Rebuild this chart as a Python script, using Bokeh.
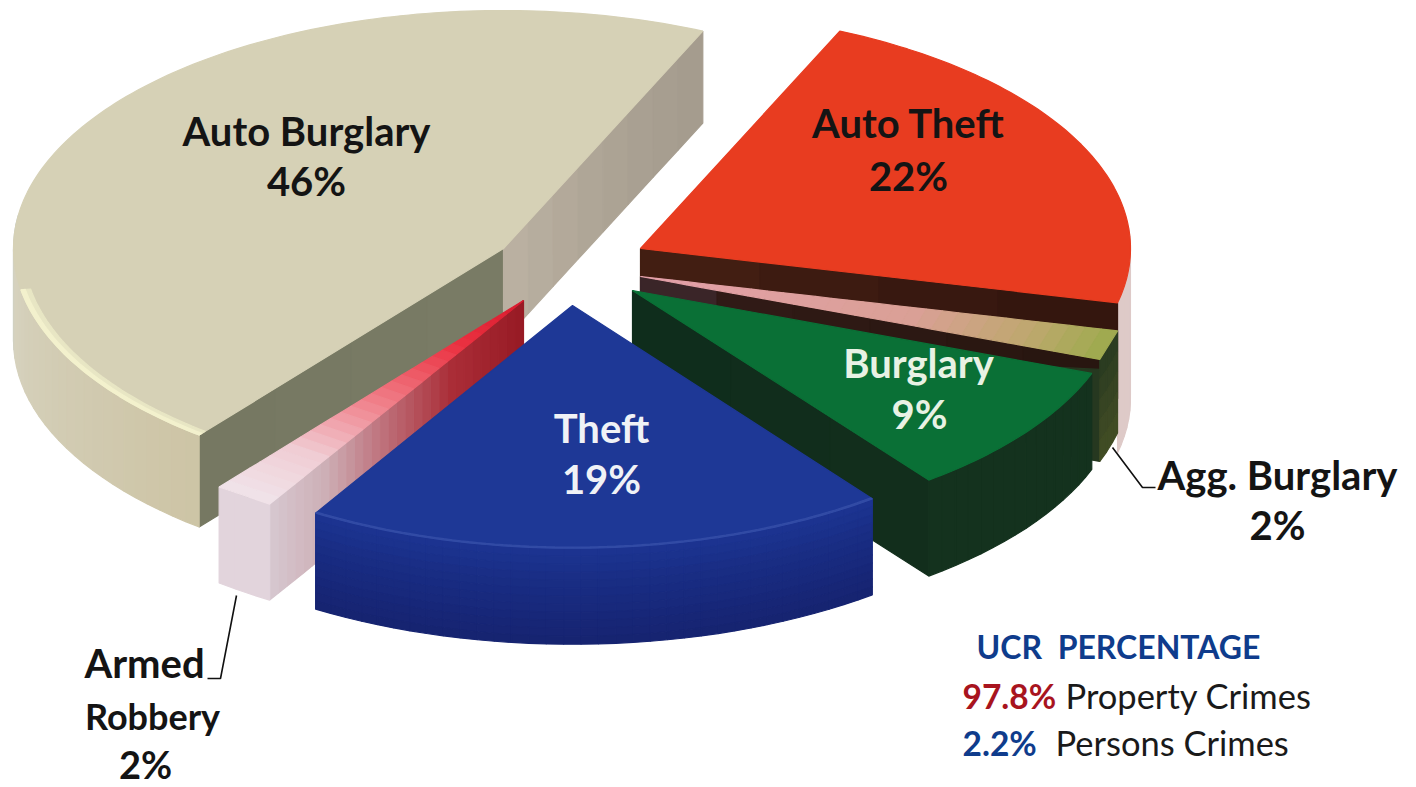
from math import cos, sin, radians
from bokeh.plotting import figure
from bokeh.models import Range1d
from bokeh.core.properties import value
from bokeh.embed import file_html
from bokeh.resources import INLINE

# ---- data ----
categories = ["Auto Theft", "Agg. Burglary", "Burglary", "Theft", "Armed Robbery", "Auto Burglary"]
shares = [22, 2, 9, 19, 2, 46]
ucr_labels = ["Property Crimes", "Persons Crimes"]
ucr_values = [97.8, 2.2]

# ---- projection and layout ----
START = 66.0
A, B = 490.0, 238.0
DEPTH = 96.0
apexes = {
    "Auto Theft": (640, 248), "Agg. Burglary": (640, 276), "Burglary": (632, 290),
    "Theft": (572, 305), "Armed Robbery": (523, 300), "Auto Burglary": (503, 248),
}
scale = {"Theft": (1.012, 1.02)}
spans = {}
a0 = START
for c, s in zip(categories, shares):
    a1 = a0 - s * 3.6
    spans[c] = (a0, a1)
    a0 = a1

xs, ys, cols = [], [], []


def hexc(c):
    return "#%02x%02x%02x" % tuple(int(round(v)) for v in c)


def ramp(stops, f):
    for (f0, c0), (f1, c1) in zip(stops, stops[1:]):
        if f <= f1:
            k = (f - f0) / (f1 - f0) if f1 > f0 else 0
            return tuple(u + (v - u) * k for u, v in zip(c0, c1))
    return stops[-1][1]


def add(px, py, col):
    xs.append(px)
    ys.append(py)
    cols.append(hexc(col))


def pt(c, t, r=1.0):
    ax, ay = apexes[c]
    sx, sy = scale.get(c, (1, 1))
    return ax + r * sx * A * cos(radians(t)), ay - r * sy * B * sin(radians(t))


def steps(t0, t1, d=2.0):
    n = max(1, int(abs(t1 - t0) / d))
    return [t0 + (t1 - t0) * i / n for i in range(n + 1)]


def top(c, col, t0=None, t1=None):
    a, b = spans[c]
    a = a if t0 is None else t0
    b = b if t1 is None else t1
    ax, ay = apexes[c]
    p = [pt(c, t) for t in steps(a, b, 1.0)]
    add([ax] + [q[0] for q in p], [ay] + [q[1] for q in p], col)


def top_grad(c, stops, n=30):
    a, b = spans[c]
    for i in range(n):
        f0, f1 = i / n, (i + 1) / n
        p0, p1, p2, p3 = pt(c, a, f0), pt(c, b, f0), pt(c, b, f1), pt(c, a, f1)
        add([p0[0], p1[0], p2[0], p3[0]], [p0[1], p1[1], p2[1], p3[1]], ramp(stops, f1))


def cut(c, t, stops, n=30, depth=DEPTH):
    for i in range(n):
        f0, f1 = i / n, (i + 1) / n
        p0, p1 = pt(c, t, f0), pt(c, t, f1)
        add([p0[0], p1[0], p1[0], p0[0]], [p0[1], p1[1], p1[1] + depth, p0[1] + depth], ramp(stops, f1))


def wall(c, t0, t1, colfn, bands=1, depth=DEPTH):
    ts = steps(t0, t1)
    for u, v in zip(ts, ts[1:]):
        pu, pv = pt(c, u), pt(c, v)
        for k in range(bands):
            d0, d1 = depth * k / bands, depth * (k + 1) / bands
            add([pu[0], pv[0], pv[0], pu[0]],
                [pu[1] + d0, pv[1] + d0, pv[1] + d1, pu[1] + d1],
                colfn((u - t0) / (t1 - t0), (k + 0.5) / bands))


def rim(c, t0, t1, col, w=0.012):
    ts = steps(t0, t1, 1.0)
    o = [pt(c, t) for t in ts]
    i = [pt(c, t, 1 - w) for t in reversed(ts)]
    add([q[0] for q in o + i], [q[1] for q in o + i], col)


# Auto Burglary
c = "Auto Burglary"
far = spans[c][0] + 360
cut(c, far, [(0, (122, 124, 102)), (1, (118, 120, 98))], 4, 92)
cut(c, START, [(0, (190, 180, 165)), (0.6, (172, 163, 148)), (1, (165, 156, 142))], 8, 92)
wall(c, 172, far, lambda f, v: ramp([(0, (190, 205, 215)), (0.2, (214, 210, 190)), (1, (205, 196, 165))], f), 1, 92)
top(c, (214, 209, 182), far, START)
rim(c, 190, far, (232, 230, 196), 0.02)
rim(c, 190, far, (243, 241, 205), 0.009)

# Auto Theft
c = "Auto Theft"
wall(c, 5, spans[c][1], lambda f, v: (222, 202, 200), 1, 150)
cut(c, spans[c][1], [(0, (70, 32, 20)), (1, (52, 22, 14))], 4)
top(c, (232, 60, 32))

# Agg. Burglary
c = "Agg. Burglary"
t_end = spans[c][1]
cut(c, t_end, [(0, (70, 50, 62)), (0.3, (48, 26, 22)), (1, (40, 22, 16))], 6)
q0, q1 = pt(c, t_end, 0.9), pt(c, t_end, 1.0)
add([q0[0], q1[0], q1[0], q0[0]], [q0[1] + 16, q1[1] + 10, q1[1] + DEPTH + 6, q0[1] + DEPTH + 6], (38, 56, 32))
wall(c, spans[c][0], t_end, lambda f, v: ramp([(0, (40, 58, 32)), (0.6, (58, 70, 36)), (1, (66, 78, 36))], v), 5, DEPTH + 6)
top_grad(c, [(0, (228, 160, 170)), (0.6, (218, 160, 150)), (0.85, (190, 168, 110)), (1, (160, 170, 80))])

# Burglary
c = "Burglary"
cut(c, spans[c][1], [(0, (14, 44, 28)), (1, (18, 46, 28))], 3)
wall(c, spans[c][0], spans[c][1], lambda f, v: (20, 50, 30))
top(c, (10, 112, 54))

# Armed Robbery
c = "Armed Robbery"
cut(c, spans[c][0], [(0, (150, 25, 35)), (0.3, (170, 45, 55)), (0.6, (192, 120, 130)), (0.8, (205, 175, 182)), (1, (214, 198, 206))])
wall(c, spans[c][1], spans[c][0], lambda f, v: (226, 212, 220))
top_grad(c, [(0, (215, 25, 45)), (0.25, (235, 50, 65)), (0.55, (240, 130, 140)), (0.8, (240, 205, 212)), (1, (240, 226, 232))])

# Theft
c = "Theft"
wall(c, spans[c][1], spans[c][0],
     lambda f, v: ramp([(0, (28, 52, 146)), (0.35, (25, 45, 132)), (1, (22, 35, 112))], v), 12)
top(c, (30, 56, 150))
rim(c, spans[c][1], spans[c][0], (50, 75, 165), 0.005)

# ---- figure: axis coordinates are reference pixels ----
W, H = 1416, 787
p = figure(width=W, height=H, x_range=Range1d(0, W), y_range=Range1d(H, 0),
           toolbar_location=None, output_backend="svg", min_border=0)
p.axis.visible = False
p.grid.visible = False
p.outline_line_color = None
p.background_fill_color = "white"
p.border_fill_color = "white"

p.patches(xs, ys, fill_color=cols, line_color=cols, line_width=1.2)

# leader lines
p.line([236, 220, 207], [595, 678, 678], line_color="#111111", line_width=1.6)
p.line([1112, 1142, 1155], [447, 487, 487], line_color="#111111", line_width=1.6)

FONT = value("Lato")
INK = "#141414"


def label(x, y, txt, size, col, align="center", style="bold"):
    p.text([x], [y - 3], text=[txt], text_font=FONT, text_font_size=f"{size}px", text_font_style=style,
           text_color=col, text_align=align, text_baseline="middle")


pct = {c: f"{s}%" for c, s in zip(categories, shares)}
BIG = 40
label(306, 133, "Auto Burglary", BIG, INK)
label(306, 183, pct["Auto Burglary"], BIG, INK)
label(908, 125, "Auto Theft", BIG, INK)
label(908, 178, pct["Auto Theft"], BIG, INK)
label(918, 365, "Burglary", BIG, "#e8f2e4")
label(919, 416, pct["Burglary"], BIG, "#e8f2e4")
label(601, 430, "Theft", BIG, "#f0f2f6")
label(601, 481, pct["Theft"], BIG, "#f0f2f6")
label(1277, 477, "Agg. Burglary", BIG, INK)
label(1277, 527, pct["Agg. Burglary"], BIG, INK)
label(144, 665, "Armed", BIG, INK)
label(152, 718, "Robbery", 36, INK)
label(145, 766, pct["Armed Robbery"], 38, INK)

label(1118, 649, "UCR\u00a0\u00a0PERCENTAGE", 32, "#0f3c8c")
label(962, 698, f"{ucr_values[0]}%", 33.5, "#a8141e", "left")
label(1065, 698, ucr_labels[0], 34.5, "#1a1a1a", "left", "normal")
label(962, 745, f"{ucr_values[1]}%", 33.5, "#0f3c8c", "left")
label(1055, 745, ucr_labels[1], 34.5, "#1a1a1a", "left", "normal")

open("out.html", "w").write(file_html(p, INLINE))
